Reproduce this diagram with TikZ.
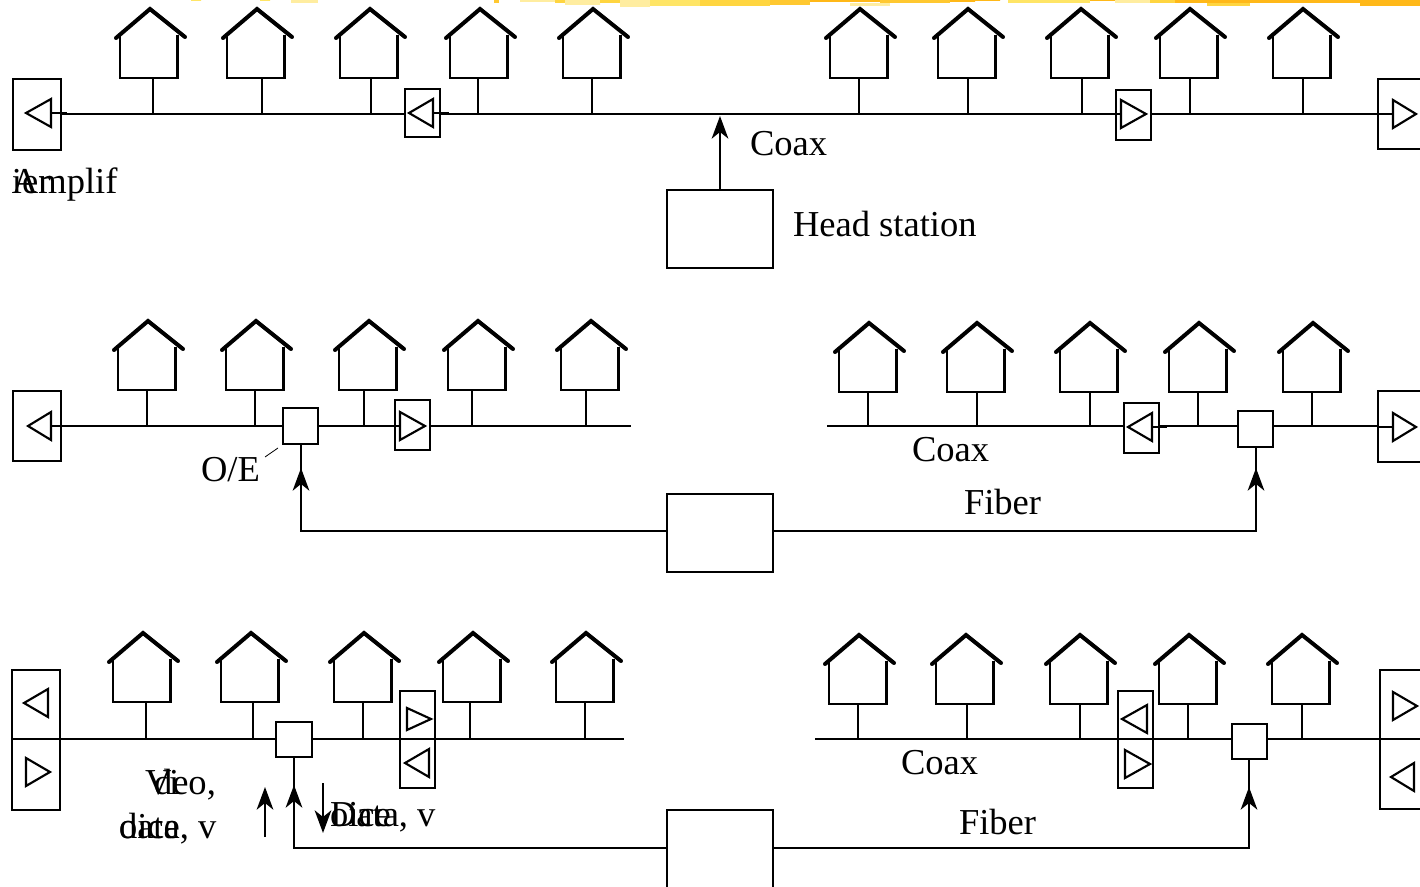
\documentclass[tikz,border=0pt]{standalone}
\usepackage{fontspec}
\setmainfont{Liberation Serif}
\usetikzlibrary{arrows.meta}
\definecolor{bandA}{HTML}{FFE566}
\definecolor{bandB}{HTML}{FFEDA0}
\definecolor{bandC}{HTML}{FFD540}
\definecolor{bandD}{HTML}{FFC830}
\definecolor{bandE}{HTML}{FFB818}
\tikzset{
  wire/.style={line width=1.6pt,line cap=butt},
  roofline/.style={line width=3pt,line join=miter,line cap=round},
  frame/.style={draw,fill=white,line width=1.6pt,inner sep=0pt,outer sep=0pt},
  glyph/.style={line width=1.6pt,line join=miter},
  label/.style={inner sep=0pt,outer sep=0pt,anchor=base west,font=\fontsize{27.4}{30}\selectfont},
  feed/.style={line width=1.6pt,-{Stealth[length=17pt,width=12.5pt,inset=5pt]}},
}
% name, x1, y1, x2, y2
\newcommand{\framed}[5]{\node[frame,minimum width={(#4-#2)*0.75pt},minimum height={(#5-#3)*0.75pt}] (#1) at ({(#2+#4)/2},{(#3+#5)/2}) {};}
% name, apex x, apex y, stem x, bus coordinate
\newcommand{\hut}[5]{%
  \coordinate (#1) at (#4,{#3+69});
  \draw[roofline] ({#2-34},{#3+29}) -- (#2,#3) -- ({#2+35},{#3+28});
  \draw[wire,line join=miter] ({#2-30},{#3+26}) -- ({#2-30},{#3+69}) -- ({#2+27.5},{#3+69}) -- ({#2+27.5},{#3+26});
  \draw[wire] (#1) -- (#1 |- #5);
}
% name, base x, tip x, y, half height
\newcommand{\amptri}[5]{%
  \coordinate (#1) at (#2,#4);
  \draw[glyph] (#2,{#4-#5}) -- (#3,#4) -- (#2,{#4+#5}) -- cycle;
}
\begin{document}
\begin{tikzpicture}[x=0.75pt,y=-0.75pt]
\useasboundingbox (0,0) rectangle (1420,887);
\clip (0,0) rectangle (1420,887);
% decorative band along the top edge
\fill[bandA] (191,0) rectangle (201,1) (260,0) rectangle (270,1);
\fill[bandB] (291,0) rectangle (318,3);
\fill[bandD] (494,0) rectangle (499,3);
\fill[bandB] (520,0) rectangle (560,2) (565,0) rectangle (600,5);
\fill[bandC] (555,0) rectangle (565,3);
\fill[bandC] (600,0) rectangle (620,3);
\fill[bandB] (620,0) rectangle (650,7);
\fill[bandA] (650,0) rectangle (700,6);
\fill[bandC] (700,0) rectangle (770,6);
\fill[bandD] (770,0) rectangle (810,5);
\fill[bandE] (810,0) rectangle (880,2);
\fill[bandB] (850,3) rectangle (890,6);
\fill[bandD] (880,0) rectangle (950,3);
\fill[bandE] (950,0) rectangle (975,2) (975,0) rectangle (1000,1);
\fill[bandA] (1008,0) rectangle (1090,3);
\fill[bandE] (1090,0) rectangle (1115,1);
\fill[bandB] (1115,0) rectangle (1150,3);
\fill[bandC] (1150,0) rectangle (1175,3);
\fill[bandE] (1175,0) rectangle (1420,3);
\fill[bandC] (1207,3) rectangle (1250,6);
\fill[bandE] (1360,3) rectangle (1420,6);

% ---- row 1
\coordinate (busA) at (0,114);
\framed{aL}{13}{79}{61}{150}
\framed{aM}{405}{89}{440}{137}
\framed{aN}{1116}{90}{1151}{140}
\framed{aR}{1378}{79}{1460}{149}
\framed{headA}{667}{190}{773}{268}
\draw[wire] (aL.east |- busA) -- (aM.west |- busA);
\draw[wire] (aM.east |- busA) -- (aN.west |- busA);
\draw[wire] (aN.east |- busA) -- (aR.west |- busA);
\amptri{tL}{51}{26}{113}{14}
\amptri{tM}{433}{409}{113}{14}
\amptri{tN}{1121}{1146}{114}{14}
\amptri{tR}{1393}{1416}{114}{14}
\draw[wire] (tL) -- ++(16,0);
\draw[wire] (tM) -- ++(16,0);
\draw[wire] (tN) -- ++(-15,0);
\draw[wire] (tR) -- ++(-20,0);
\hut{h1}{150}{9}{153}{busA}
\hut{h2}{257}{9}{262}{busA}
\hut{h3}{370}{9}{371}{busA}
\hut{h4}{480}{9}{478}{busA}
\hut{h5}{593}{9}{592}{busA}
\hut{h6}{860}{9}{859}{busA}
\hut{h7}{968}{9}{968}{busA}
\hut{h8}{1081}{9}{1082}{busA}
\hut{h9}{1190}{9}{1190}{busA}
\hut{h10}{1303}{9}{1303}{busA}
\coordinate (tipA) at (720,116);
\draw[feed] (headA.north) -- (tipA);
\node[label] (coaxA) at (750,155.5) {Coax};
\node[label] (headtxt) at (793,237) {Head station};
\node[label] (amp1) at (12,194) {Amplif};
\node[label] (amp2) at (12,194) {ier};

% ---- row 2
\coordinate (busB) at (0,426);
\framed{bL}{13}{391}{61}{461}
\framed{bOE}{283}{408}{318}{444}
\framed{bM}{395}{400}{430}{450}
\coordinate (bEnd) at (631,426);
\coordinate (cStart) at (827,426);
\framed{cM}{1124}{403}{1159}{453}
\framed{cOE}{1238}{411}{1273}{447}
\framed{cR}{1378}{391}{1460}{462}
\framed{headB}{667}{494}{773}{572}
\draw[wire] (bL.east |- busB) -- (bOE.west |- busB);
\draw[wire] (bOE.east |- busB) -- (bM.west |- busB);
\draw[wire] (bM.east |- busB) -- (bEnd);
\draw[wire] (cStart) -- (cM.west |- cStart);
\draw[wire] (cM.east |- cStart) -- (cOE.west |- cStart);
\draw[wire] (cOE.east |- cStart) -- (cR.west |- cStart);
\amptri{tbL}{51}{28}{426}{14}
\amptri{tbM}{400}{425}{426}{14}
\amptri{tcM}{1152}{1128}{427}{14}
\amptri{tcR}{1393}{1416}{427}{14}
\draw[wire] (tbL) -- ++(14,0);
\draw[wire] (tbM) -- ++(-15,0);
\draw[wire] (tcM) -- ++(15,0);
\draw[wire] (tcR) -- ++(-15,0);
\hut{k1}{148}{321}{147}{busB}
\hut{k2}{256}{321}{255}{busB}
\hut{k3}{369}{321}{364}{busB}
\hut{k4}{478}{321}{472}{busB}
\hut{k5}{591}{321}{586}{busB}
\hut{k6}{869}{323}{868}{busB}
\hut{k7}{977}{323}{977}{busB}
\hut{k8}{1090}{323}{1090}{busB}
\hut{k9}{1199}{323}{1198}{busB}
\hut{k10}{1313}{323}{1312}{busB}
\coordinate (bElbow) at (301,531);
\coordinate (bTip) at (301,468);
\coordinate (cElbow) at (1256,531);
\coordinate (cTip) at (1256,468);
\draw[wire,line join=miter] (headB.west |- bElbow) -- (bElbow) -- (bTip);
\draw[feed] (bElbow) -- (bTip);
\draw[wire] (bTip) -- (bOE.south -| bElbow);
\draw[wire,line join=miter] (headB.east |- cElbow) -- (cElbow) -- (cTip);
\draw[feed] (cElbow) -- (cTip);
\draw[wire] (cTip) -- (cOE.south -| cElbow);
\coordinate (oeA) at (265,457);
\coordinate (oeB) at (278,448);
\draw[line width=0.6pt] (oeA) -- (oeB);
\node[label] (oetxt) at (201,482) {O/E};
\node[label] (coaxB) at (912,461) {Coax};
\node[label] (fibB) at (964,514) {Fiber};

% ---- row 3
\coordinate (busC) at (0,739);
\framed{dLu}{12}{670}{60}{739}
\framed{dLd}{12}{739}{60}{810}
\framed{dOE}{276}{722}{312}{757}
\framed{dMu}{400}{691}{435}{739}
\framed{dMd}{400}{739}{435}{788}
\coordinate (dEnd) at (624,739);
\coordinate (eStart) at (815,739);
\framed{eMu}{1118}{691}{1153}{739}
\framed{eMd}{1118}{739}{1153}{788}
\framed{eOE}{1232}{724}{1267}{759}
\framed{eRu}{1380}{670}{1460}{739}
\framed{eRd}{1380}{739}{1460}{809}
\framed{headC}{667}{810}{773}{900}
\draw[wire] (dLu.south east) -- (dOE.west |- busC);
\draw[wire] (dOE.east |- busC) -- (dMu.south west);
\draw[wire] (dMu.south east) -- (dEnd);
\draw[wire] (eStart) -- (eMu.south west);
\draw[wire] (eMu.south east) -- (eOE.west |- busC);
\draw[wire] (eOE.east |- busC) -- (eRu.south west);
\amptri{tdLu}{48}{24}{703}{14}
\amptri{tdLd}{26}{50}{772}{14}
\amptri{tdMu}{407}{431}{719}{11}
\amptri{tdMd}{429}{405}{763}{14}
\amptri{teMu}{1147}{1122}{719}{14}
\amptri{teMd}{1125}{1150}{764}{14}
\amptri{teRu}{1393}{1417}{706}{14}
\amptri{teRd}{1414}{1391}{777}{14}
\hut{m1}{143}{633}{146}{busC}
\hut{m2}{251}{633}{253}{busC}
\hut{m3}{364}{633}{363}{busC}
\hut{m4}{473}{633}{470}{busC}
\hut{m5}{586}{633}{585}{busC}
\hut{m6}{859}{635}{858}{busC}
\hut{m7}{966}{635}{967}{busC}
\hut{m8}{1080}{635}{1080}{busC}
\hut{m9}{1189}{635}{1188}{busC}
\hut{m10}{1302}{635}{1302}{busC}
\coordinate (dElbow) at (294,848);
\coordinate (dTip) at (294,785);
\coordinate (eElbow) at (1249,848);
\coordinate (eTip) at (1249,787);
\draw[wire,line join=miter] (headC.west |- dElbow) -- (dElbow) -- (dTip);
\draw[feed] (dElbow) -- (dTip);
\draw[wire] (dTip) -- (dOE.south -| dElbow);
\draw[wire,line join=miter] (headC.east |- eElbow) -- (eElbow) -- (eTip);
\draw[feed] (eElbow) -- (eTip);
\draw[wire] (eTip) -- (eOE.south -| eElbow);
\coordinate (upA) at (265,837);
\coordinate (upB) at (265,787);
\coordinate (dnA) at (323,783);
\coordinate (dnB) at (323,833);
\draw[feed] (upA) -- (upB);
\draw[feed] (dnA) -- (dnB);
\node[label] (vid1) at (145,794) {Vi};
\node[label] (vid2) at (154,794) {deo,};
\node[label] (vid3) at (119,838) {data, v};
\node[label] (vid4) at (119,838) {oice};
\node[label] (dat1) at (330,826) {Data, v};
\node[label] (dat2) at (330,826) {oice};
\node[label] (coaxC) at (901,774) {Coax};
\node[label] (fibC) at (959,834) {Fiber};
\end{tikzpicture}
\end{document}
